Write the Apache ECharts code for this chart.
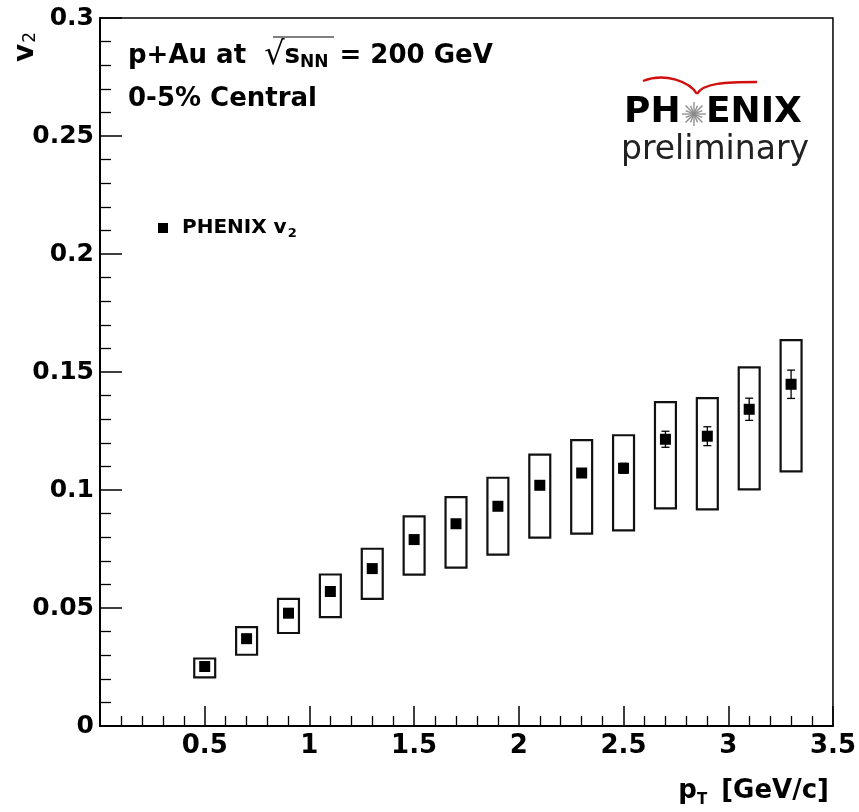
<!DOCTYPE html>
<html>
<head>
<meta charset="utf-8">
<script src="https://cdn.jsdelivr.net/npm/echarts@6/dist/echarts.min.js"></script>
<style>
html,body{margin:0;padding:0;background:#fff;}
#chart{width:859px;height:812px;}
</style>
</head>
<body>
<div id="chart"></div>
<script>
// ---- data ----
const ptValues = [0.5, 0.7, 0.9, 1.1, 1.3, 1.5, 1.7, 1.9, 2.1, 2.3, 2.5, 2.7, 2.9, 3.1, 3.3];
const v2Values = [0.0252, 0.0370, 0.0478, 0.0570, 0.0667, 0.0790, 0.0857, 0.0931, 0.1020, 0.1072, 0.1092, 0.1215, 0.1228, 0.1342, 0.1448];
const statErr  = [0.0004, 0.0005, 0.0006, 0.0007, 0.0008, 0.0009, 0.0011, 0.0013, 0.0015, 0.0018, 0.0021, 0.0034, 0.0040, 0.0047, 0.0060];
const sysHigh  = [0.0286, 0.0419, 0.0539, 0.0642, 0.0751, 0.0888, 0.0970, 0.1052, 0.1150, 0.1211, 0.1232, 0.1372, 0.1389, 0.1520, 0.1635];
const sysLow   = [0.0206, 0.0302, 0.0394, 0.0461, 0.0539, 0.0641, 0.0671, 0.0726, 0.0798, 0.0815, 0.0829, 0.0922, 0.0918, 0.1003, 0.1079];
const boxHalfWidth = 0.05;
const seriesName = 'PHENIX v2';

const FONT = 'DejaVu Sans';
const chart = echarts.init(document.getElementById('chart'), null, {renderer: 'canvas'});

const pointData = ptValues.map((x, i) => [x, v2Values[i]]);
const errData = ptValues.map((x, i) => [x, v2Values[i] - statErr[i], v2Values[i] + statErr[i]]);
const boxData = ptValues.map((x, i) => [x, sysLow[i], sysHigh[i]]);

// starburst rays for the logo (decoration)
const starRays = [];
for (let k = 0; k < 16; k++) {
  const a = k * Math.PI / 8;
  const r = k % 2 === 0 ? 12 : 9;
  starRays.push({
    type: 'line',
    shape: {x1: 0, y1: 0, x2: r * Math.cos(a), y2: r * Math.sin(a)},
    style: {stroke: '#8a8a8a', lineWidth: 1.3}
  });
}

const option = {
  backgroundColor: '#fff',
  animation: false,
  grid: {left: 100, right: 25, top: 18, bottom: 86, show: true, borderColor: '#000', borderWidth: 1.5, backgroundColor: 'transparent'},
  xAxis: {
    type: 'value', min: 0, max: 3.5, interval: 0.5,
    name: 'p{sub|T} [GeV/c]',
    nameLocation: 'end', nameGap: -4,
    nameTextStyle: {
      fontFamily: FONT, fontWeight: 'bold', fontSize: 26, color: '#000',
      align: 'right', verticalAlign: 'top', padding: [49, 0, 0, 0],
      rich: {sub: {fontFamily: FONT, fontWeight: 'bold', fontSize: 15, color: '#000', padding: [18, 5, 0, 0]}}
    },
    axisLine: {lineStyle: {color: '#000', width: 2}},
    axisTick: {inside: true, length: 20, lineStyle: {color: '#000', width: 1.5}},
    minorTick: {show: true, splitNumber: 5, length: 10, lineStyle: {color: '#000', width: 1.3}},
    splitLine: {show: false},
    axisLabel: {
      fontFamily: FONT, fontWeight: 'bold', fontSize: 26, color: '#000', margin: 7,
      formatter: v => (v === 0 ? '' : String(v))
    }
  },
  yAxis: {
    type: 'value', min: 0, max: 0.3, interval: 0.05,
    axisLine: {lineStyle: {color: '#000', width: 2}},
    axisTick: {inside: true, length: 22, lineStyle: {color: '#000', width: 1.5}},
    minorTick: {show: true, splitNumber: 5, length: 11, lineStyle: {color: '#000', width: 1.3}},
    splitLine: {show: false},
    axisLabel: {fontFamily: FONT, fontWeight: 'bold', fontSize: 25, color: '#000', margin: 6}
  },
  legend: {
    show: true,
    data: [seriesName],
    left: 153, top: 213,
    orient: 'vertical',
    icon: 'rect', itemWidth: 10, itemHeight: 10,
    selectedMode: false,
    formatter: () => 'PHENIX v{sub|2}',
    textStyle: {
      fontFamily: FONT, fontWeight: 'bold', fontSize: 20, color: '#000', padding: [0, 0, 0, 9],
      rich: {sub: {fontFamily: FONT, fontWeight: 'bold', fontSize: 13, color: '#000', padding: [12, 0, 0, 1]}}
    }
  },
  graphic: [
    {
      type: 'text', left: 128, top: 40, z: 10,
      style: {
        text: 'p+Au at  {sq|√}{s|s}{sub|NN} = 200 GeV',
        fontFamily: FONT, fontWeight: 'bold', fontSize: 26, fill: '#000',
        rich: {
          sq: {fontFamily: FONT, fontWeight: 'normal', fontSize: 32, fill: '#000'},
          s: {fontFamily: FONT, fontWeight: 'bold', fontSize: 26, fill: '#000'},
          sub: {fontFamily: FONT, fontWeight: 'bold', fontSize: 17, fill: '#000', padding: [14, 2, 0, 0]}
        }
      }
    },
    {type: 'line', z: 10, shape: {x1: 273, y1: 37, x2: 334, y2: 37}, style: {stroke: '#000', lineWidth: 1}},
    {
      type: 'text', left: 128, top: 86, z: 10,
      style: {text: '0-5% Central', fontFamily: FONT, fontWeight: 'bold', fontSize: 26, fill: '#000'}
    },
    // PHENIX logo
    {
      type: 'bezierCurve', z: 10,
      shape: {x1: 643, y1: 81, cpx1: 665, cpy1: 72, cpx2: 690, cpy2: 82, x2: 697, y2: 94},
      style: {stroke: '#d01010', lineWidth: 2.4, fill: 'none'}
    },
    {
      type: 'bezierCurve', z: 10,
      shape: {x1: 697, y1: 94, cpx1: 703, cpy1: 83, cpx2: 725, cpy2: 82, x2: 757, y2: 82},
      style: {stroke: '#d01010', lineWidth: 2.4, fill: 'none'}
    },
    {
      type: 'text', left: 624, top: 95, z: 10,
      style: {text: 'PH', fontFamily: FONT, fontWeight: 'bold', fontSize: 36, fill: '#000'}
    },
    {type: 'group', x: 694, y: 114, z: 10, children: starRays},
    {
      type: 'text', left: 706, top: 95, z: 10,
      style: {text: 'ENIX', fontFamily: FONT, fontWeight: 'bold', fontSize: 36, fill: '#000'}
    },
    {
      type: 'text', left: 621, top: 134, z: 10,
      style: {text: 'preliminary', fontFamily: FONT, fontWeight: 'normal', fontSize: 33, fill: '#222'}
    },
    {
      type: 'text', z: 10, x: 26, y: 62, rotation: Math.PI / 2,
      style: {
        text: 'v{sub|2}', fontFamily: FONT, fontWeight: 'bold', fontSize: 28, fill: '#000',
        verticalAlign: 'middle', align: 'left',
        rich: {sub: {fontFamily: FONT, fontWeight: 'normal', fontSize: 17, fill: '#000', padding: [10, 0, 0, 1]}}
      }
    }
  ],
  series: [
    {
      type: 'custom', name: 'sys', z: 1, silent: true,
      data: boxData,
      encode: {x: 0, y: [1, 2]},
      renderItem: (params, api) => {
        const x = api.value(0), lo = api.value(1), hi = api.value(2);
        const p1 = api.coord([x - boxHalfWidth, hi]);
        const p2 = api.coord([x + boxHalfWidth, lo]);
        return {
          type: 'rect',
          shape: {x: p1[0], y: p1[1], width: p2[0] - p1[0], height: p2[1] - p1[1]},
          style: {fill: 'none', stroke: '#111', lineWidth: 2.2}
        };
      }
    },
    {
      type: 'custom', name: 'stat', z: 2, silent: true,
      data: errData,
      encode: {x: 0, y: [1, 2]},
      renderItem: (params, api) => {
        const x = api.value(0);
        const lo = api.coord([x, api.value(1)]);
        const hi = api.coord([x, api.value(2)]);
        const c = 4;
        return {
          type: 'group',
          children: [
            {type: 'line', shape: {x1: lo[0], y1: lo[1], x2: hi[0], y2: hi[1]}, style: {stroke: '#000', lineWidth: 1.3}},
            {type: 'line', shape: {x1: lo[0] - c, y1: lo[1], x2: lo[0] + c, y2: lo[1]}, style: {stroke: '#000', lineWidth: 1.3}},
            {type: 'line', shape: {x1: hi[0] - c, y1: hi[1], x2: hi[0] + c, y2: hi[1]}, style: {stroke: '#000', lineWidth: 1.3}}
          ]
        };
      }
    },
    {
      type: 'scatter', name: seriesName, z: 10,
      symbol: 'rect', symbolSize: 11,
      itemStyle: {color: '#000', opacity: 1},
      emphasis: {disabled: true},
      data: pointData
    }
  ]
};
chart.setOption(option);
</script>
</body>
</html>
